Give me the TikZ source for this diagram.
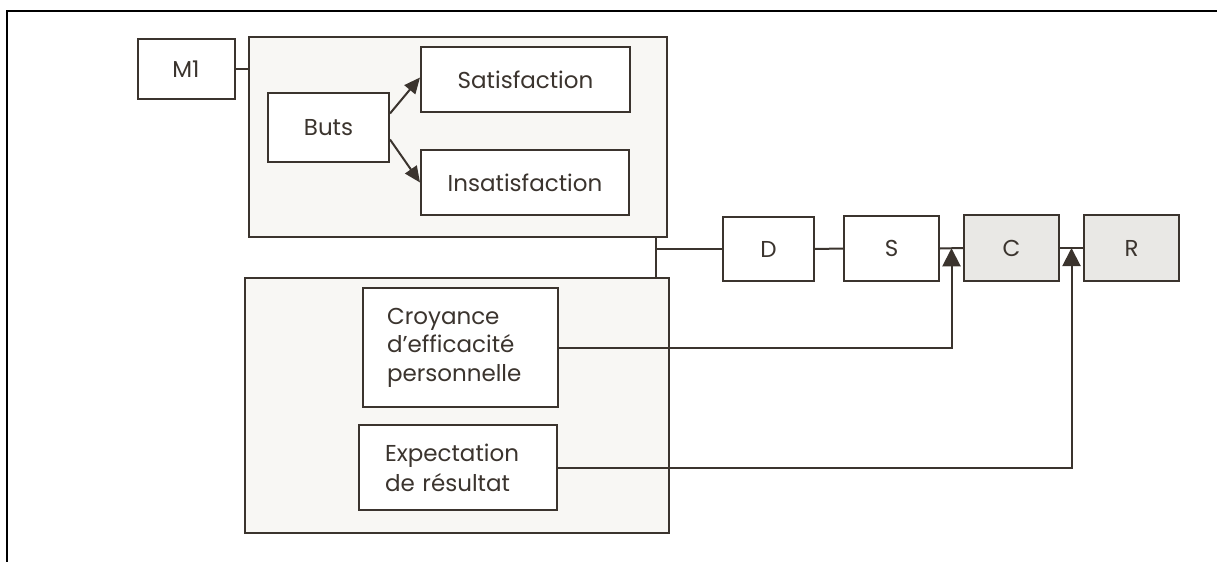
\documentclass[tikz,border=0pt]{standalone}
\usepackage{fontspec}
\setmainfont{Poppins}
\usetikzlibrary{arrows.meta,calc}
\definecolor{ink}{HTML}{3B342E}
\definecolor{paper}{HTML}{F8F7F4}
\definecolor{shade}{HTML}{E9E8E5}

\begin{document}
\begin{tikzpicture}[
	x=0.5pt,y=-0.5pt
	,every node/.append style={font=\fontsize{11.5}{14}\selectfont, text=ink, inner sep=0pt}
	,bx/.style={draw=ink, line width=1pt, fill=white}
	,grp/.style={draw=ink, line width=1pt, fill=paper}
	,gr/.style={draw=ink, line width=1pt, fill=shade}
	,ln/.style={draw=ink, line width=1pt}
	,arr/.style={ln, -{Triangle[length=8pt,width=7pt]}}
	,up/.style={ln, -{Triangle[length=9pt,width=9pt]}}
]
	\useasboundingbox (0,0) rectangle (1217,562);
	\draw [line width=1.3pt] (1217,11) -- (7,11) -- (7,562);

	% groups
	\node [grp, minimum width=209pt, minimum height=100pt] (GA) at (458,137) {};
	\node [grp, minimum width=212pt, minimum height=127.5pt] (GB) at (457,405.5) {};

	\node [bx, minimum width=48.5pt, minimum height=30pt] (M1) at (186,69) {M1};
	\node [bx, minimum width=60.5pt, minimum height=34.5pt] (But) at (328.5,127.5) {Buts};
	\node [bx, minimum width=104.5pt, minimum height=32.5pt] (Sat) at (525.5,79.5) {Satisfaction};
	\node [bx, minimum width=104pt, minimum height=32.5pt] (Ins) at (525,182.5) {Insatisfaction};

	\node [bx, minimum height=59.5pt, text width=73.5pt, inner xsep=12pt, align=left,
		font=\fontsize{11.5}{14.3}\selectfont] (Cro) at (460.5,347.5)
		{Croyance\\d’efficacité\\personnelle};
	\node [bx, minimum height=42.5pt, text width=73pt, inner xsep=13pt, align=left,
		font=\fontsize{11.5}{15}\selectfont] (Exp) at (458,467.5)
		{Expectation\\de résultat};

	\node [bx, minimum width=45.5pt, minimum height=32pt] (D) at (768.5,249) {D};
	\node [bx, minimum width=47.5pt, minimum height=32.5pt] (S) at (891.5,248.5) {S};
	\node [gr, minimum width=47.5pt, minimum height=33pt] (C) at (1011.5,248) {C};
	\node [gr, minimum width=47.5pt, minimum height=33pt] (R) at (1131.5,248) {R};

	% connectors
	\coordinate (jn) at (656,249);
	\coordinate (kC) at ($(S.east)!.5!(C.west)$);
	\coordinate (kR) at ($(C.east)!.5!(R.west)$);

	\draw [ln] (M1.east) -- (M1.east -| GA.west);
	\draw [arr] ([yshift=7pt]But.east) -- ([yshift=1pt]Sat.west);
	\draw [arr] ([yshift=-6pt]But.east) -- (Ins.west);
	\draw [ln] (jn |- GA.south) -- (jn |- GB.north);
	\draw [ln] (jn) -- (D.west);
	\draw [ln] (D.east) -- (S.west);
	\draw [ln] (S.east) -- (C.west);
	\draw [ln] (C.east) -- (R.west);
	\draw [up] (Cro.east) -| (kC);
	\draw [up] (Exp.east) -| (kR);
\end{tikzpicture}
\end{document}
